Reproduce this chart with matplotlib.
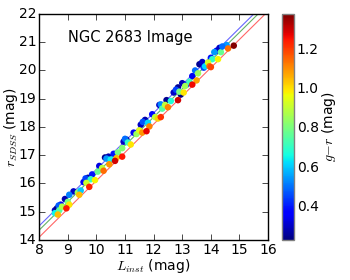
import numpy as np
import matplotlib

matplotlib.use("Agg")
import matplotlib.pyplot as plt

# instrumental mag, SDSS r mag, g-r colour
l_inst = [
    8.55, 8.62, 8.75, 8.90, 9.20, 9.55, 9.70, 9.85, 10.10, 10.30, 10.42, 10.60,
    10.95, 11.05, 11.30, 11.55, 11.70, 11.95, 12.20, 12.45, 12.70, 12.85, 13.00,
    13.15, 13.35, 13.60, 13.70, 13.75, 14.00, 14.20, 14.30, 12.95,
    8.68, 9.05, 9.62, 10.35, 11.00, 11.62, 12.25, 12.78, 13.45, 14.12,
    8.55, 8.70, 9.00, 9.35, 9.45, 9.80, 10.20, 10.50, 10.75, 11.10, 11.40, 11.80,
    12.05, 12.30, 12.60, 12.90, 13.25, 13.55, 13.80, 14.05, 14.35, 14.55, 14.40,
    8.80, 9.65, 10.05, 10.90, 11.50, 12.40, 13.10, 13.90,
    9.05, 9.40, 9.95, 10.25, 10.70, 11.20, 11.60, 12.15, 12.50, 13.05, 13.50,
    13.95, 14.25, 14.60, 8.65, 10.45, 11.85,
    8.95, 10.65, 10.90, 11.75, 12.25, 12.85, 13.35, 14.00, 14.80, 9.75,
]
r_sdss = [
    15.05, 15.12, 15.25, 15.45, 15.72, 16.05, 16.20, 16.32, 16.62, 16.92, 16.95, 17.05,
    17.48, 17.55, 17.80, 18.08, 18.25, 18.45, 18.78, 18.95, 19.22, 19.40, 19.55,
    19.50, 19.80, 20.22, 20.30, 20.10, 20.45, 20.70, 20.80, 19.15,
    15.22, 15.60, 16.18, 16.88, 17.58, 18.18, 18.80, 19.32, 20.00, 20.65,
    14.95, 15.05, 15.35, 15.68, 15.75, 16.15, 16.55, 16.85, 17.10, 17.45, 17.75, 18.15,
    18.35, 18.65, 18.92, 19.25, 19.60, 19.90, 20.15, 20.40, 20.65, 20.90, 20.85,
    15.18, 16.02, 16.42, 17.25, 17.88, 18.78, 19.45, 20.28,
    15.25, 15.60, 16.12, 16.45, 16.90, 17.38, 17.80, 18.30, 18.70, 19.22, 19.65,
    20.15, 20.40, 20.78, 14.90, 16.68, 18.02,
    15.12, 16.80, 16.95, 17.85, 18.35, 18.95, 19.50, 20.12, 20.88, 15.88,
]
g_r = [
    0.30, 0.25, 0.35, 0.28, 0.30, 0.35, 0.25, 0.40, 0.33, 0.25, 0.28, 0.40,
    0.30, 0.25, 0.35, 0.30, 0.28, 0.38, 0.30, 0.25, 0.30, 0.25, 0.28,
    0.40, 0.35, 0.25, 0.30, 0.45, 0.40, 0.35, 0.30, 0.22,
    0.48, 0.52, 0.45, 0.55, 0.50, 0.47, 0.53, 0.45, 0.50, 0.55,
    0.65, 0.75, 0.80, 0.85, 0.60, 0.70, 0.90, 0.65, 0.80, 0.70, 0.85, 0.62,
    0.90, 0.75, 0.68, 0.80, 0.72, 0.85, 0.62, 0.70, 0.78, 0.55, 0.50,
    0.88, 0.92, 0.78, 0.82, 0.95, 0.90, 0.86, 0.93,
    1.00, 1.05, 0.98, 1.15, 1.05, 1.00, 1.10, 1.02, 1.12, 1.00, 1.08,
    1.15, 0.98, 1.15, 1.05, 1.10, 1.12,
    1.25, 1.30, 1.25, 1.28, 1.22, 1.30, 1.27, 1.20, 1.38, 1.24,
]

# fitted relations r = L + zp for three colours
fit_zp = [6.50, 6.35, 6.10]
fit_colors = ["b", "g", "r"]

plt.style.use("classic")
plt.rcParams["font.size"] = 10

fig = plt.figure(figsize=(3.5, 2.8), dpi=100, facecolor="white")
ax = fig.add_axes([0.112, 0.143, 0.654, 0.807])
cax = fig.add_axes([0.806, 0.143, 0.034, 0.807])

xx = np.array([8.0, 16.0])
for zp, c in zip(fit_zp, fit_colors):
    ax.plot(xx, xx + zp, color=c, lw=0.8, alpha=0.6, zorder=1)

sc = ax.scatter(l_inst, r_sdss, c=g_r, cmap="jet", vmin=0.23, vmax=1.385,
                s=22, edgecolors="none", zorder=2)

ax.text(9.0, 21.0, "NGC 2683 Image", fontsize=10.5)
ax.set_xlim(8, 16)
ax.set_ylim(14, 22)
ax.set_xticks(range(8, 17))
ax.set_yticks(range(14, 23))
ax.tick_params(labelsize=10, pad=2)
ax.set_xlabel(r"$L_{inst}$ (mag)", fontsize=10, labelpad=0)
ax.set_ylabel(r"$r_{SDSS}$ (mag)", fontsize=10, labelpad=-1)

cb = fig.colorbar(sc, cax=cax)
cb.set_ticks([0.4, 0.6, 0.8, 1.0, 1.2])
cb.ax.tick_params(labelsize=10, length=0, pad=2)
cb.outline.set_edgecolor("gray")
cb.set_label(r"$g{-}r$ (mag)", fontsize=10, labelpad=1)

fig.savefig("out.png", dpi=100, facecolor="white")
